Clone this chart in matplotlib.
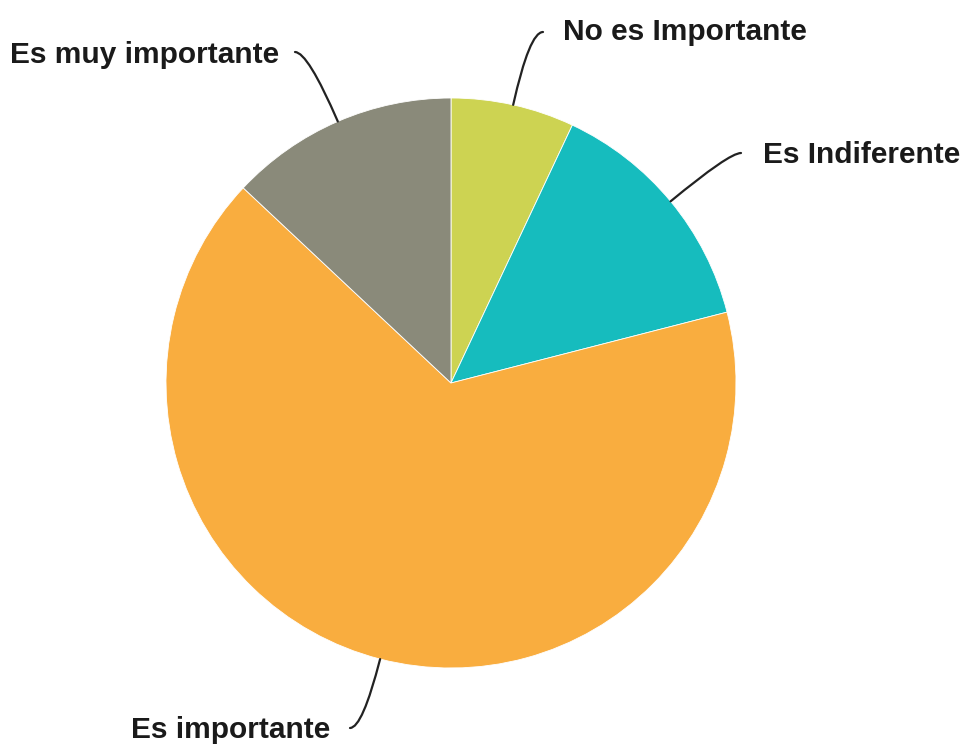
import matplotlib.pyplot as plt
import numpy as np

# Survey answers (share of responses, %)
labels = ['No es Importante', 'Es Indiferente', 'Es importante', 'Es muy importante']
values = [7, 14, 66, 13]
colors = ['#CDD352', '#16BCBE', '#F9AD3F', '#8A8A7A']

# label placement (pixel coords, y from top) and where each leader line ends
text_pos = [(563, 40, 'left'), (763, 163, 'left'), (330, 738, 'right'), (279, 63, 'right')]
line_end = [(543, 32), (741, 153), (350, 728), (295, 52)]

W, H = 962, 745
fig = plt.figure(figsize=(W / 100, H / 100), dpi=100)
ax = fig.add_axes([0, 0, 1, 1])

cx, cy, r = 451, H - 383, 285
wedges, _ = ax.pie(values, colors=colors, startangle=90, counterclock=False,
                   center=(cx, cy), radius=r, frame=True,
                   wedgeprops=dict(edgecolor='white', linewidth=0.6))
ax.set_xlim(0, W)
ax.set_ylim(0, H)
ax.set_aspect('equal')
ax.axis('off')

for w, lab, (tx, ty, ha), (lx, ly) in zip(wedges, labels, text_pos, line_end):
    ang = (w.theta1 + w.theta2) / 2
    ex = cx + r * np.cos(np.radians(ang))
    ey = cy + r * np.sin(np.radians(ang))
    ax.annotate('', xy=(ex, ey), xytext=(lx, H - ly),
                arrowprops=dict(arrowstyle='-', color='#222222', lw=1.6,
                                shrinkA=0, shrinkB=0,
                                connectionstyle=f'angle3,angleA=0,angleB={ang}'))
    ax.text(tx, H - ty, lab, ha=ha, va='baseline', fontsize=21.5,
            fontweight='bold', family='Liberation Sans', color='#1a1a1a')

fig.savefig('out.png', dpi=100)
